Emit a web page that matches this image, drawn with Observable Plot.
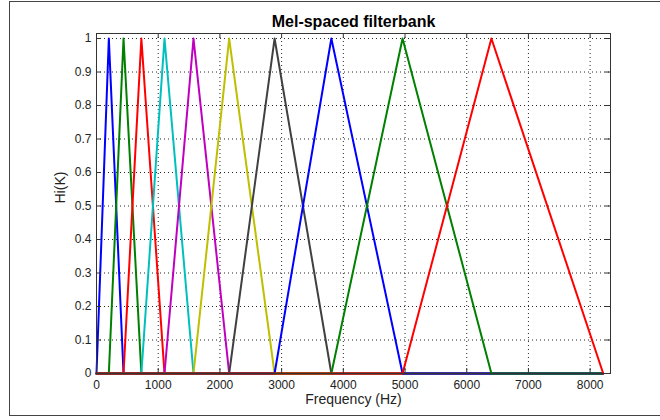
<!DOCTYPE html>
<html>
<head>
<meta charset="utf-8">
<script src="https://cdn.jsdelivr.net/npm/d3@7"></script>
<script src="https://cdn.jsdelivr.net/npm/@observablehq/plot@0.6"></script>
<style>
  html, body { margin: 0; padding: 0; background: #fff; }
  #wrap { position: relative; width: 660px; height: 420px; overflow: hidden; }
  #border { position: absolute; left: 9px; top: 1px; width: 700px; height: 415px; border: 1.5px solid #444; box-sizing: border-box; pointer-events: none; }
  svg { font-family: "Liberation Sans", Arial, sans-serif; }
</style>
</head>
<body>
<div id="wrap"><div id="border"></div></div>
<script>
// Filter band edges (Hz): filter i rises from edges[i] to peak at edges[i+1], falls to edges[i+2]
const edges = [0, 200, 438, 727, 1102, 1572, 2150, 2886, 3806, 4960, 6400, 8212];
const colors = ["#0000ff", "#008000", "#ff0000", "#00bfbf", "#bf00bf", "#bfbf00", "#404040", "#0000ff", "#008000", "#ff0000"];
const xTicks = [0, 1000, 2000, 3000, 4000, 5000, 6000, 7000, 8000];
const yTicks = [0, 0.1, 0.2, 0.3, 0.4, 0.5, 0.6, 0.7, 0.8, 0.9, 1];
const fMax = 8212;

const filters = colors.map((c, i) => {
  const pts = [];
  const a = edges[i], b = edges[i + 1], e = edges[i + 2];
  if (a > 0) pts.push({f: 0, h: 0});
  pts.push({f: a, h: 0}, {f: b, h: 1}, {f: e, h: 0});
  if (e < fMax) pts.push({f: fMax, h: 0});
  return {color: c, pts};
});

const W = 660, H = 420, mL = 96, mR = 50, mT = 33, mB = 47;
const innerW = W - mL - mR, innerH = H - mT - mB;

const chart = Plot.plot({
  width: W, height: H,
  marginLeft: mL, marginRight: mR, marginTop: mT, marginBottom: mB,
  x: {domain: [0, 8330]},
  y: {domain: [0, 1.015]},
  style: {fontFamily: "'Liberation Sans', Arial, sans-serif", fontSize: "12px", color: "#222", background: "#fff"},
  marks: [
    Plot.gridX(xTicks, {stroke: "#000", strokeOpacity: 0.85, strokeDasharray: "1,3", strokeWidth: 1}),
    Plot.gridY(yTicks, {stroke: "#000", strokeOpacity: 0.85, strokeDasharray: "1,3", strokeWidth: 1}),
    ...filters.map(fl => Plot.line(fl.pts, {x: "f", y: "h", stroke: fl.color, strokeWidth: 2})),
    Plot.frame({stroke: "#333", strokeWidth: 1}),
    // inward ticks on all four sides
    Plot.tickX(xTicks, {x: d => d, stroke: "#333", insetTop: innerH - 5}),
    Plot.tickX(xTicks, {x: d => d, stroke: "#333", insetBottom: innerH - 5}),
    Plot.tickY(yTicks, {y: d => d, stroke: "#333", insetRight: innerW - 5}),
    Plot.tickY(yTicks, {y: d => d, stroke: "#333", insetLeft: innerW - 5}),
    Plot.axisX(xTicks, {tickSize: 0, tickPadding: 7, label: null, fontSize: 12, tickFormat: d => String(d)}),
    Plot.axisY(yTicks, {tickSize: 0, tickPadding: 5, label: null, fontSize: 12, tickFormat: d => String(d)}),
    Plot.text(["Mel-spaced filterbank"], {frameAnchor: "top", dy: -18, fontSize: 16, fontWeight: "bold", fill: "#000"}),
    Plot.text(["Frequency (Hz)"], {frameAnchor: "bottom", dy: 30, fontSize: 14, fill: "#222"}),
    Plot.text(["Hi(K)"], {frameAnchor: "left", dx: -36, rotate: -90, fontSize: 14, fill: "#222"})
  ]
});
document.getElementById("wrap").prepend(chart);
</script>
</body>
</html>
